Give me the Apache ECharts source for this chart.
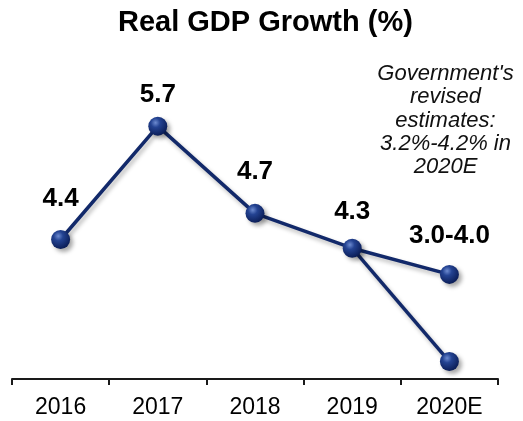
<!DOCTYPE html>
<html>
<head>
<meta charset="utf-8">
<script src="https://cdn.jsdelivr.net/npm/echarts@6/dist/echarts.min.js"></script>
<style>
  html, body { margin: 0; padding: 0; background: #ffffff; }
  #chart { width: 523px; height: 421px; }
</style>
</head>
<body>
<div id="chart"></div>
<script>
// Real GDP growth, %, with two end points for the 2020 estimate range
var years = ['2016', '2017', '2018', '2019', '2020E'];
var growthHigh = [4.4, 5.7, 4.7, 4.3, 4.0];      // path to the top of the 2020E range
var growthLow = ['-', '-', '-', 4.3, 3.0];        // path to the bottom of the 2020E range
var pointLabels = ['4.4', '5.7', '4.7', '4.3', '3.0-4.0'];
var noteLines = ["Government's", 'revised', 'estimates:', '3.2%-4.2% in', '2020E'];

// vertical lift of each value label above its marker (px)
var labelLift = [41, 31, 42, 36, 39];

var NAVY = '#12296a';
var sphere = {
  type: 'radial', x: 0.38, y: 0.32, r: 0.7,
  colorStops: [
    { offset: 0, color: '#6d8bd0' },
    { offset: 0.35, color: '#244392' },
    { offset: 1, color: '#0a1c55' }
  ]
};
var markerStyle = {
  color: sphere,
  shadowColor: 'rgba(0,0,0,0.35)',
  shadowBlur: 4,
  shadowOffsetX: 3,
  shadowOffsetY: 3
};
var lineStyle = {
  color: NAVY,
  width: 3.5,
  shadowColor: 'rgba(0,0,0,0.28)',
  shadowBlur: 4,
  shadowOffsetX: 2,
  shadowOffsetY: 3
};

var highData = growthHigh.map(function (v, i) {
  return {
    value: v,
    label: {
      show: true,
      formatter: pointLabels[i],
      position: 'inside',
      offset: [0, -labelLift[i]]
    }
  };
});
var lowData = growthLow.map(function (v, i) {
  return i === 3 ? { value: v, symbolSize: 0 } : v;
});

var chart = echarts.init(document.getElementById('chart'), null, { renderer: 'canvas' });
chart.setOption({
  animation: false,
  backgroundColor: '#ffffff',
  title: {
    text: 'Real GDP Growth (%)',
    left: 118,
    top: 8,
    padding: 0,
    textStyle: {
      fontFamily: 'Liberation Sans',
      fontWeight: 'bold',
      fontSize: 29,
      lineHeight: 29,
      color: '#000000'
    }
  },
  grid: { left: 12, right: 25, top: 100, bottom: 42, containLabel: false },
  xAxis: {
    type: 'category',
    data: years,
    boundaryGap: true,
    axisLine: { lineStyle: { color: '#1a1a1a', width: 2 } },
    axisTick: { show: true, length: 6, lineStyle: { color: '#1a1a1a', width: 2 } },
    axisLabel: {
      margin: 17,
      fontFamily: 'Liberation Sans',
      fontSize: 23,
      lineHeight: 23,
      color: '#000000'
    },
    splitLine: { show: false }
  },
  yAxis: {
    type: 'value',
    min: 2.8,
    max: 6.0,
    show: false
  },
  series: [
    {
      type: 'line',
      data: lowData,
      symbol: 'circle',
      symbolSize: 19,
      lineStyle: lineStyle,
      itemStyle: markerStyle,
      z: 2
    },
    {
      type: 'line',
      data: highData,
      symbol: 'circle',
      symbolSize: 19,
      lineStyle: lineStyle,
      itemStyle: markerStyle,
      label: {
        fontFamily: 'Liberation Sans',
        fontWeight: 'bold',
        fontSize: 26,
        color: '#000000'
      },
      z: 3
    }
  ],
  graphic: [
    {
      type: 'text',
      x: 445.5,
      y: 120.4,
      style: {
        text: noteLines.join('\n'),
        align: 'center',
        verticalAlign: 'middle',
        fontFamily: 'Liberation Sans',
        fontStyle: 'italic',
        fontSize: 22,
        lineHeight: 23.3,
        fill: '#111111'
      }
    }
  ]
});
</script>
</body>
</html>
